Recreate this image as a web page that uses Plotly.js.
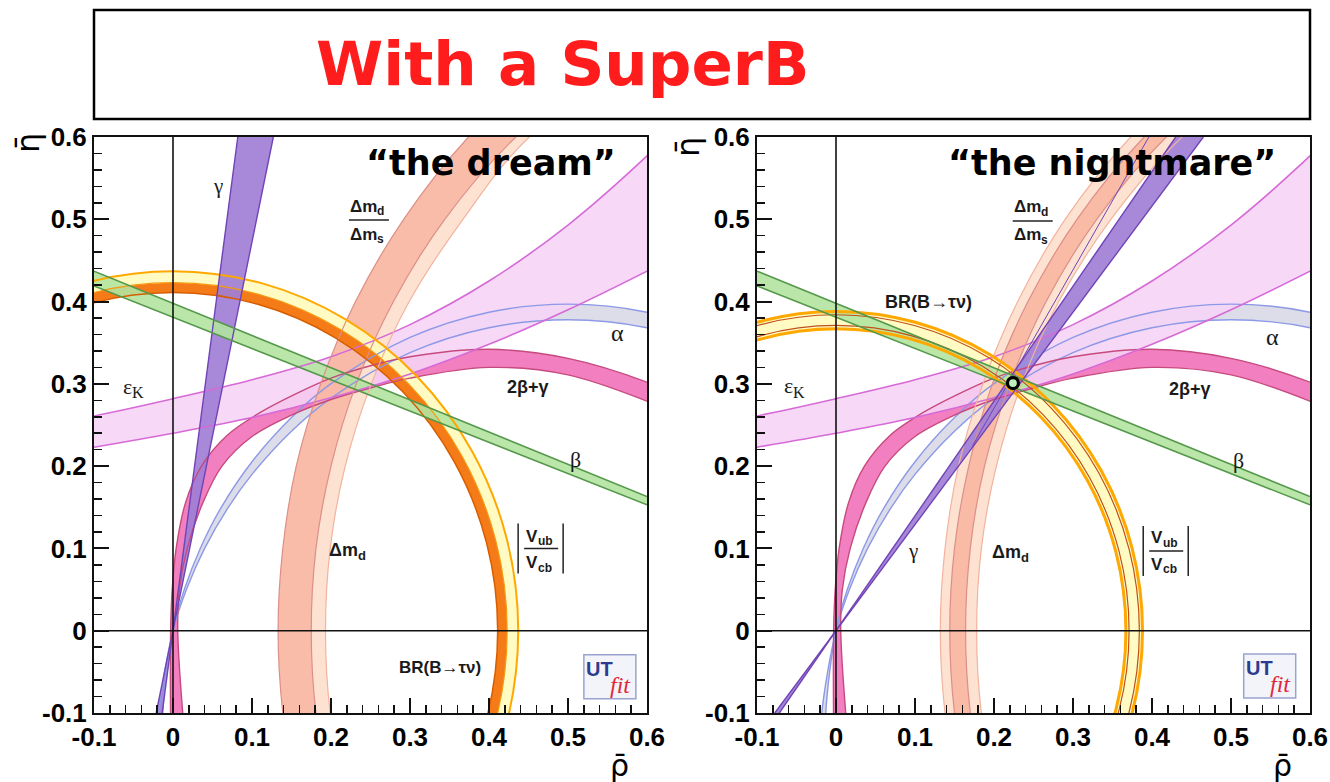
<!DOCTYPE html>
<html><head><meta charset="utf-8">
<script src="https://cdn.plot.ly/plotly-3.0.1.min.js"></script>
<style>html,body{margin:0;padding:0;background:#fff}#chart{width:1330px;height:782px}</style>
</head><body><div id="chart"></div>
<script>
// ---------- axis ticks ----------
const tickVals = [-0.1, 0, 0.1, 0.2, 0.3, 0.4, 0.5, 0.6];
const tickText = ['-0.1', '0', '0.1', '0.2', '0.3', '0.4', '0.5', '0.6'];

// ---------- beta band (straight) ----------
const betaRho = [-0.1, 0.6];
const betaTopEta = [0.437, 0.163];
const betaBotEta = [0.419, 0.153];

// ---------- gamma bands (straight, through origin) ----------
const gammaEta = [-0.1, 0.6];
const gammaL_rhoA = [-0.0137, 0.082];
const gammaL_rhoB = [-0.0213, 0.127];
const gammaR_rhoA = [-0.0717, 0.430];
const gammaR_rhoB = [-0.0775, 0.465];
// thin extra purple contour line seen inside the Δm region (right panel)
const gammaR_extraRho = [0.173, 0.308, 0.396];
const gammaR_extraEta = [0.225, 0.452, 0.6];

// ---------- Δm_d and Δm_d/Δm_s bands (sampled at eta levels) ----------
const dmEta = [-0.2, -0.1, 0, 0.1, 0.2, 0.3, 0.4, 0.5, 0.6, 0.7];
const dmdL_outer = [0.156, 0.139, 0.133, 0.139, 0.156, 0.187, 0.231, 0.292, 0.374, 0.488];
const dmdL_inner = [0.200, 0.181, 0.175, 0.181, 0.200, 0.232, 0.279, 0.344, 0.434, 0.563];
const dmsL_inner = [0.218, 0.199, 0.193, 0.199, 0.218, 0.251, 0.299, 0.367, 0.451, 0.599];
const dmsR_outer = [0.155, 0.138, 0.132, 0.138, 0.155, 0.186, 0.230, 0.290, 0.373, 0.487];
const dmdR_outer = [0.168, 0.150, 0.144, 0.150, 0.168, 0.198, 0.243, 0.305, 0.390, 0.507];
const dmdR_inner = [0.188, 0.170, 0.164, 0.170, 0.188, 0.220, 0.266, 0.330, 0.418, 0.543];
const dmsR_inner = [0.203, 0.184, 0.178, 0.184, 0.203, 0.235, 0.282, 0.348, 0.438, 0.569];

// ---------- |Vub/Vcb| rings ----------
const vubL_outRho = [0.3784, 0.4221, 0.437, 0.4221, 0.3784, 0.309, 0.2185, 0.1131, 0, -0.1131, -0.2185];
const vubL_outEta = [-0.2185, -0.1131, 0, 0.1131, 0.2185, 0.309, 0.3784, 0.4221, 0.437, 0.4221, 0.3784];
const vubL_midRho = [0.3663, 0.4086, 0.423, 0.4086, 0.3663, 0.2991, 0.2115, 0.1095, 0, -0.1095, -0.2115];
const vubL_midEta = [-0.2115, -0.1095, 0, 0.1095, 0.2115, 0.2991, 0.3663, 0.4086, 0.423, 0.4086, 0.3663];
const vubL_inRho = [0.3559, 0.397, 0.411, 0.397, 0.3559, 0.2906, 0.2055, 0.1064, 0, -0.1064, -0.2055];
const vubL_inEta = [-0.2055, -0.1064, 0, 0.1064, 0.2055, 0.2906, 0.3559, 0.397, 0.411, 0.397, 0.3559];
const vubR_outRho = [0.336, 0.3748, 0.388, 0.3748, 0.336, 0.2744, 0.194, 0.1004, 0, -0.1004, -0.194];
const vubR_outEta = [-0.194, -0.1004, 0, 0.1004, 0.194, 0.2744, 0.336, 0.3748, 0.388, 0.3748, 0.336];
const vubR_redORho = [0.3326, 0.3709, 0.384, 0.3709, 0.3326, 0.2715, 0.192, 0.0994, 0, -0.0994, -0.192];
const vubR_redOEta = [-0.192, -0.0994, 0, 0.0994, 0.192, 0.2715, 0.3326, 0.3709, 0.384, 0.3709, 0.3326];
const vubR_redIRho = [0.3213, 0.3584, 0.371, 0.3584, 0.3213, 0.2623, 0.1855, 0.096, 0, -0.096, -0.1855];
const vubR_redIEta = [-0.1855, -0.096, 0, 0.096, 0.1855, 0.2623, 0.3213, 0.3584, 0.371, 0.3584, 0.3213];
const vubR_inRho = [0.3178, 0.3545, 0.367, 0.3545, 0.3178, 0.2595, 0.1835, 0.095, 0, -0.095, -0.1835];
const vubR_inEta = [-0.1835, -0.095, 0, 0.095, 0.1835, 0.2595, 0.3178, 0.3545, 0.367, 0.3545, 0.3178];

// ---------- alpha band ----------
const alphaTopRho = [-0.0124, -0.013, 0, 0.0143, 0.0345, 0.0611, 0.1, 0.15, 0.2, 0.3, 0.4, 0.5, 0.6, 0.7];
const alphaTopEta = [-0.15, -0.1, 0, 0.05, 0.1, 0.15, 0.2054, 0.2591, 0.3002, 0.3564, 0.3871, 0.3969, 0.3871, 0.3564];
const alphaBotRho = [-0.0195, -0.018, 0, 0.017, 0.040, 0.070, 0.1, 0.15, 0.2, 0.3, 0.4, 0.5, 0.6, 0.7];
const alphaBotEta = [-0.15, -0.1, 0, 0.05, 0.1, 0.15, 0.19, 0.2424, 0.2826, 0.3379, 0.3682, 0.3779, 0.3682, 0.3379];

// ---------- 2beta+gamma band ----------
const sinTopRho = [-0.003, -0.003, -0.001, 0.004, 0.016, 0.036, 0.068, 0.11, 0.16, 0.2, 0.25, 0.3, 0.4, 0.5, 0.6, 0.65];
const sinTopEta = [-0.12, 0, 0.05, 0.1, 0.156, 0.2, 0.237, 0.265, 0.29, 0.307, 0.322, 0.333, 0.342, 0.331, 0.302, 0.28];
const sinBotRho = [0.014, 0.006, 0.008, 0.018, 0.038, 0.062, 0.1, 0.15, 0.2, 0.25, 0.3, 0.4, 0.5, 0.6, 0.65];
const sinBotEta = [-0.12, 0, 0.05, 0.1, 0.156, 0.2, 0.236, 0.262, 0.281, 0.295, 0.307, 0.32, 0.311, 0.279, 0.258];

// ---------- epsilon_K band ----------
const epsRho = [-0.15, -0.1, 0, 0.1, 0.2, 0.3, 0.4, 0.5, 0.6, 0.65];
const epsTopEta = [0.252, 0.261, 0.282, 0.305, 0.333, 0.372, 0.425, 0.493, 0.577, 0.625];
const epsBotEta = [0.215, 0.223, 0.240, 0.259, 0.283, 0.312, 0.348, 0.390, 0.437, 0.462];

// ---------- fitted point (right panel) ----------
const fitRho = [0.224];
const fitEta = [0.301];

// ---------- helpers ----------
const XA = ['x', 'x2'], YA = ['y', 'y2'];
function band(rA, eA, rB, eB, color, k, smooth) {
  return {type: 'scatter', mode: 'lines', x: rA.concat(rB.slice().reverse()), y: eA.concat(eB.slice().reverse()),
    fill: 'toself', fillcolor: color, line: {width: 0, shape: smooth ? 'spline' : 'linear', smoothing: 1},
    xaxis: XA[k], yaxis: YA[k], hoverinfo: 'skip', showlegend: false};
}
function edge(r, e, color, w, k, smooth) {
  return {type: 'scatter', mode: 'lines', x: r, y: e,
    line: {color: color, width: w, shape: smooth ? 'spline' : 'linear', smoothing: 1},
    xaxis: XA[k], yaxis: YA[k], hoverinfo: 'skip', showlegend: false};
}
const C = {
  epsF: 'rgba(246,212,246,0.88)', epsL: '#d66ad6',
  alpF: '#dcdde9', alpL: '#8d99e6',
  sinF: '#f27fbf', sinL: '#c64a7e',
  peaF: '#fde2d2', peaL: '#f2b39e',
  salF: 'rgba(248,182,162,0.92)', salL: '#dc8f88',
  yelF: 'rgba(255,251,190,0.92)', oraF: '#f47b18', oraL: '#ffa800', oraD: '#d65d00', redL: '#c0501c',
  gamF: 'rgba(160,126,214,0.92)', gamL: '#7144b6',
  betF: 'rgba(178,228,160,0.9)', betL: '#55984b'
};
const traces = [];
for (let k = 0; k < 2; k++) {
  const gA = k === 0 ? gammaL_rhoA : gammaR_rhoA, gB = k === 0 ? gammaL_rhoB : gammaR_rhoB;
  // fills
  traces.push(band(alphaTopRho, alphaTopEta, alphaBotRho, alphaBotEta, C.alpF, k, true));
  traces.push(band(sinTopRho, sinTopEta, sinBotRho, sinBotEta, C.sinF, k, true));
  traces.push(band(epsRho, epsTopEta, epsRho, epsBotEta, C.epsF, k, true));
  if (k === 0) {
    traces.push(band(dmdL_inner, dmEta, dmsL_inner, dmEta, C.peaF, k, true));
    traces.push(band(dmdL_outer, dmEta, dmdL_inner, dmEta, C.salF, k, true));
    traces.push(band(vubL_inRho, vubL_inEta, vubL_midRho, vubL_midEta, C.oraF, k, true));
    traces.push(band(vubL_midRho, vubL_midEta, vubL_outRho, vubL_outEta, C.yelF, k, true));
  } else {
    traces.push(band(dmsR_outer, dmEta, dmsR_inner, dmEta, C.peaF, k, true));
    traces.push(band(dmdR_outer, dmEta, dmdR_inner, dmEta, C.salF, k, true));
    traces.push(band(vubR_inRho, vubR_inEta, vubR_outRho, vubR_outEta, C.yelF, k, true));
  }
  traces.push(band(gA, gammaEta, gB, gammaEta, C.gamF, k, false));
  traces.push(band(betaRho, betaTopEta, betaRho, betaBotEta, C.betF, k, false));
  // edges
  traces.push(edge(alphaTopRho, alphaTopEta, C.alpL, 1.4, k, true));
  traces.push(edge(alphaBotRho, alphaBotEta, C.alpL, 1.4, k, true));
  traces.push(edge(sinTopRho, sinTopEta, C.sinL, 1.4, k, true));
  traces.push(edge(sinBotRho, sinBotEta, C.sinL, 1.4, k, true));
  traces.push(edge(epsRho, epsTopEta, C.epsL, 1.6, k, true));
  traces.push(edge(epsRho, epsBotEta, C.epsL, 1.6, k, true));
  if (k === 0) {
    traces.push(edge(dmsL_inner, dmEta, C.peaL, 1.2, k, true));
    traces.push(edge(dmdL_outer, dmEta, C.salL, 1.2, k, true));
    traces.push(edge(dmdL_inner, dmEta, C.salL, 1.2, k, true));
    traces.push(edge(vubL_outRho, vubL_outEta, C.oraL, 2, k, true));
    traces.push(edge(vubL_midRho, vubL_midEta, '#f59a10', 1.2, k, true));
    traces.push(edge(vubL_inRho, vubL_inEta, C.oraD, 1.5, k, true));
  } else {
    traces.push(edge(dmsR_outer, dmEta, C.peaL, 1.2, k, true));
    traces.push(edge(dmsR_inner, dmEta, C.peaL, 1.2, k, true));
    traces.push(edge(dmdR_outer, dmEta, C.salL, 1.2, k, true));
    traces.push(edge(dmdR_inner, dmEta, C.salL, 1.2, k, true));
    traces.push(edge(gammaR_extraRho, gammaR_extraEta, C.gamL, 1, k, false));
    traces.push(edge(vubR_outRho, vubR_outEta, C.oraL, 3, k, true));
    traces.push(edge(vubR_inRho, vubR_inEta, C.oraL, 3, k, true));
    traces.push(edge(vubR_redORho, vubR_redOEta, C.redL, 1.2, k, true));
    traces.push(edge(vubR_redIRho, vubR_redIEta, C.redL, 1.2, k, true));
  }
  traces.push(edge(gA, gammaEta, C.gamL, 1.4, k, false));
  traces.push(edge(gB, gammaEta, C.gamL, 1.4, k, false));
  traces.push(edge(betaRho, betaTopEta, C.betL, 1.6, k, false));
  traces.push(edge(betaRho, betaBotEta, C.betL, 1.6, k, false));
}
traces.push({type: 'scatter', mode: 'markers', x: fitRho, y: fitEta, xaxis: 'x2', yaxis: 'y2',
  marker: {symbol: 'circle', size: 11, color: '#bfeebf', line: {color: '#000', width: 3.2}},
  hoverinfo: 'skip', showlegend: false});

// ---------- layout ----------
const W = 1330, H = 782;
const px = v => v / W, py = v => 1 - v / H;
function axis(domain, anchor) {
  return {domain: domain, anchor: anchor, range: [-0.1, 0.6], showgrid: false, zeroline: false,
    showline: true, mirror: true, linecolor: '#111', linewidth: 2,
    ticks: 'inside', ticklen: 15, tickwidth: 2, tickcolor: '#111',
    tickmode: 'array', tickvals: tickVals, ticktext: tickText,
    minor: {ticks: 'inside', ticklen: 8, tickwidth: 1.5, dtick: 0.02, tick0: 0, tickcolor: '#111', showgrid: false},
    tickfont: {family: 'Liberation Sans, Arial, sans-serif', size: 26, color: '#000', weight: 'bold'},
    layer: 'above traces', fixedrange: true};
}
const xdL = [px(94), px(647)], xdR = [px(757), px(1310)], yd = [py(713), py(137)];

const SANS = 'Liberation Sans, Arial, sans-serif';
const SERIF = 'Liberation Serif, DejaVu Serif, serif';
const ann = [];
function lab(k, x, y, text, size, family, weight) {
  ann.push({xref: XA[k], yref: YA[k], x: x, y: y, text: text, showarrow: false,
    font: {family: family, size: size, color: '#1a1a1a', weight: weight || 'normal'}, xanchor: 'center', yanchor: 'middle'});
}
// main text + subscript as two plain texts; split = pixel offset of the junction from the label centre
function labSub(k, x, y, main, sub, size, family, weight, split) {
  ann.push({xref: XA[k], yref: YA[k], x: x, y: y, text: main, showarrow: false, xshift: split + 2,
    font: {family: family, size: size, color: '#1a1a1a', weight: weight}, xanchor: 'right', yanchor: 'middle'});
  ann.push({xref: XA[k], yref: YA[k], x: x, y: y, text: sub, showarrow: false, xshift: split - 2, yshift: -0.3 * size,
    font: {family: family, size: Math.round(size * 0.72), color: '#1a1a1a', weight: weight}, xanchor: 'left', yanchor: 'middle'});
}
const shapes = [];
function fracBar(k, x, y, half) {
  shapes.push({type: 'line', xref: XA[k], yref: YA[k], xsizemode: 'pixel', ysizemode: 'pixel',
    xanchor: x, yanchor: y, x0: -half, x1: half, y0: 0, y1: 0, line: {color: '#222', width: 1.5}});
}
function absBar(k, x, y, dx, h) {
  shapes.push({type: 'line', xref: XA[k], yref: YA[k], xsizemode: 'pixel', ysizemode: 'pixel',
    xanchor: x, yanchor: y, x0: dx, x1: dx, y0: -h, y1: h, line: {color: '#222', width: 1.5}});
}
// left panel labels
lab(0, 0.057, 0.54, 'γ', 21, SERIF);
labSub(0, 0.248, 0.516, 'Δm', 'd', 17, SANS, 'bold', 8);
labSub(0, 0.248, 0.482, 'Δm', 's', 17, SANS, 'bold', 8);
fracBar(0, 0.248, 0.499, 20);
lab(0, 0.563, 0.362, 'α', 24, SERIF);
labSub(0, -0.052, 0.297, 'ε', 'K', 22, SERIF, 'normal', 0);
lab(0, 0.449, 0.296, '2β+γ', 18, SANS, 'bold');
lab(0, 0.51, 0.208, 'β', 22, SERIF);
labSub(0, 0.224, 0.0985, 'Δm', 'd', 18, SANS, 'bold', 8);
labSub(0, 0.466, 0.115, 'V', 'ub', 17, SANS, 'bold', -3);
labSub(0, 0.466, 0.083, 'V', 'cb', 17, SANS, 'bold', -3);
fracBar(0, 0.466, 0.0998, 17);
absBar(0, 0.466, 0.0998, -23, 25);
absBar(0, 0.466, 0.0998, 22, 25);
lab(0, 0.338, -0.045, 'BR(B→τν)', 17, SANS, 'bold');
// right panel labels
labSub(1, 0.249, 0.515, 'Δm', 'd', 17, SANS, 'bold', 8);
labSub(1, 0.249, 0.481, 'Δm', 's', 17, SANS, 'bold', 8);
fracBar(1, 0.249, 0.498, 20);
lab(1, 0.117, 0.399, 'BR(B→τν)', 18, SANS, 'bold');
lab(1, 0.553, 0.357, 'α', 24, SERIF);
labSub(1, -0.054, 0.298, 'ε', 'K', 22, SERIF, 'normal', 0);
lab(1, 0.448, 0.294, '2β+γ', 18, SANS, 'bold');
lab(1, 0.509, 0.207, 'β', 22, SERIF);
lab(1, 0.097, 0.097, 'γ', 21, SERIF);
labSub(1, 0.224, 0.096, 'Δm', 'd', 18, SANS, 'bold', 8);
labSub(1, 0.418, 0.113, 'V', 'ub', 17, SANS, 'bold', -3);
labSub(1, 0.418, 0.081, 'V', 'cb', 17, SANS, 'bold', -3);
fracBar(1, 0.418, 0.097, 17);
absBar(1, 0.418, 0.097, -23, 25);
absBar(1, 0.418, 0.097, 22, 25);
// UTfit logos
[[0, 0.553, -0.056], [1, 0.549, -0.055]].forEach(([k, x, y]) => {
  shapes.push({type: 'rect', xref: XA[k], yref: YA[k], xsizemode: 'pixel', ysizemode: 'pixel',
    xanchor: x, yanchor: y, x0: -26, x1: 26, y0: -22, y1: 22,
    fillcolor: '#f3f4fa', line: {color: '#9aa3cf', width: 1.5}});
  ann.push({xref: XA[k], yref: YA[k], x: x, y: y, text: 'UT', showarrow: false, xshift: -10, yshift: 8,
    font: {family: SANS, size: 20, color: '#2c3b8f', weight: 'bold'}, xanchor: 'center', yanchor: 'middle'});
  ann.push({xref: XA[k], yref: YA[k], x: x, y: y, text: 'fit', showarrow: false, xshift: 11, yshift: -8,
    font: {family: SERIF, size: 24, color: '#e0283a', style: 'italic'}, xanchor: 'center', yanchor: 'middle'});
});
// titles and axis names
ann.push({xref: 'paper', yref: 'paper', x: px(562), y: py(64), text: 'With a SuperB', showarrow: false,
  font: {family: 'DejaVu Sans, sans-serif', size: 61, color: '#ff1c1c', weight: 'bold'}, xanchor: 'center', yanchor: 'middle'});
ann.push({xref: 'paper', yref: 'paper', x: px(491), y: py(163), text: '“the dream”', showarrow: false,
  font: {family: 'DejaVu Sans, sans-serif', size: 35, color: '#000', weight: 'bold'}, xanchor: 'center', yanchor: 'middle'});
ann.push({xref: 'paper', yref: 'paper', x: px(1112), y: py(163), text: '“the nightmare”', showarrow: false,
  font: {family: 'DejaVu Sans, sans-serif', size: 35, color: '#000', weight: 'bold'}, xanchor: 'center', yanchor: 'middle'});
[[28, 143], [688, 147]].forEach(([x, y]) => ann.push({xref: 'paper', yref: 'paper', x: px(x), y: py(y), text: 'η̄',
  showarrow: false, textangle: -90, font: {family: 'DejaVu Sans, sans-serif', size: 32, color: '#000'},
  xanchor: 'center', yanchor: 'middle'}));
[[619, 785], [1282, 785]].forEach(([x, y]) => ann.push({xref: 'paper', yref: 'paper', x: px(x), y: py(y), text: 'ρ̄',
  showarrow: false, font: {family: 'DejaVu Sans, sans-serif', size: 30, color: '#000'},
  xanchor: 'center', yanchor: 'bottom'}));

// title box and reference lines
shapes.push({type: 'rect', xref: 'paper', yref: 'paper', x0: px(94), x1: px(1310), y0: py(119), y1: py(10),
  line: {color: '#000', width: 2.5}, fillcolor: 'rgba(0,0,0,0)'});
for (let k = 0; k < 2; k++) {
  shapes.push({type: 'line', xref: XA[k], yref: YA[k] + ' domain', x0: 0, x1: 0, y0: 0, y1: 1,
    line: {color: '#111', width: 1.6}, layer: 'above'});
  shapes.push({type: 'line', xref: XA[k] + ' domain', yref: YA[k], x0: 0, x1: 1, y0: 0, y1: 0,
    line: {color: '#111', width: 1.6}, layer: 'above'});
}

const layout = {
  width: W, height: H, margin: {l: 0, r: 0, t: 0, b: 0},
  paper_bgcolor: '#fff', plot_bgcolor: '#fff', showlegend: false,
  xaxis: axis(xdL, 'y'), yaxis: axis(yd, 'x'),
  xaxis2: axis(xdR, 'y2'), yaxis2: axis(yd, 'x2'),
  annotations: ann, shapes: shapes
};
Plotly.newPlot('chart', traces, layout, {staticPlot: true, displayModeBar: false});
</script>
</body></html>
